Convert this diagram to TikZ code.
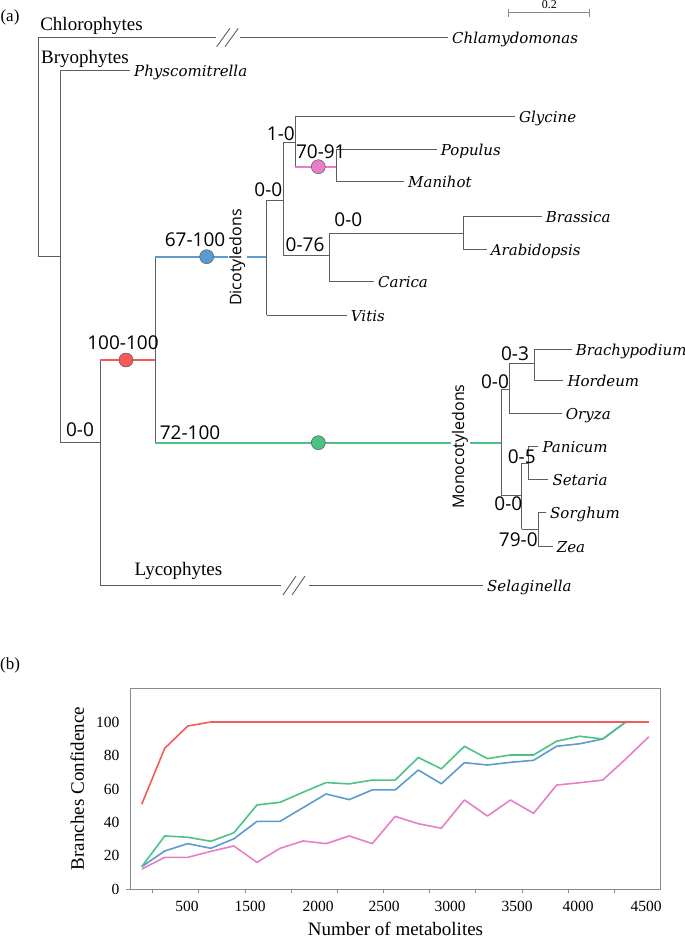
\documentclass[tikz,border=0pt]{standalone}
\usepackage{fontspec}
\setmainfont{Liberation Serif}
\newfontfamily\bsfam{Open Sans}
\newfontfamily\spfam{DejaVu Serif}
\definecolor{treegray}{HTML}{5E5E5E}
\definecolor{cred}{HTML}{F65A56}
\definecolor{cblue}{HTML}{5B9BD0}
\definecolor{cgreen}{HTML}{4CC285}
\definecolor{cpink}{HTML}{E77FC8}
\definecolor{boxgray}{HTML}{8A8A8A}
\newcommand\myspfont{\spfam\itshape\fontsize{15bp}{18bp}\selectfont}
\newcommand\mybsfont{\bsfam\fontsize{19bp}{22bp}\selectfont}
\newcommand\mycladefont{\bsfam\fontsize{16bp}{19bp}\selectfont}
\newcommand\myhdfont{\fontsize{19bp}{22bp}\selectfont}
\newcommand\mytickfont{\fontsize{15.5bp}{18bp}\selectfont}
\newcommand\mytitlefont{\fontsize{19bp}{22bp}\selectfont}
\newcommand\tedge[3]{\draw[br] (#1) -- (#1 |- #2); \draw[br,#3] (#1 |- #2) -- (#2);}
\tikzset{
  br/.style={draw=treegray, line width=0.8bp},
  cbr/.style={line width=2bp},
  dotc/.style={circle, draw=black!65, line width=0.5bp, minimum size=14bp, inner sep=0pt},
  sp/.style={anchor=base west, inner sep=0pt, font=\myspfont, xshift=4bp, yshift=-6bp},
  bs/.style={inner sep=0pt, font=\mybsfont},
  clade/.style={rotate=90, fill=white, inner sep=1.5bp, font=\mycladefont},
  hd/.style={inner sep=0pt, font=\myhdfont},
  tick/.style={inner sep=0pt, font=\mytickfont},
  sl/.style={draw=treegray, line width=0.9bp},
  dline/.style={line width=1.6bp, line join=round},
}
\begin{document}
\begin{tikzpicture}[x=1bp,y=-1bp]
\useasboundingbox (0,0) rectangle (685,939);

% ---------------- (a) tree ----------------
\node[hd, font=\fontsize{17bp}{20bp}\selectfont] (la) at (10,17) {(a)};

% internal nodes
\coordinate (R) at (38.3,147);
\coordinate (B) at (60,256.7);
\coordinate (L) at (100,442.7);
\coordinate (A) at (155,360);
\coordinate (D) at (266.7,256.7);
\coordinate (E) at (283.3,200);
\coordinate (F) at (295,142.3);
\coordinate (H) at (336.7,166.7);
\coordinate (G) at (329.3,255.7);
\coordinate (I) at (463.3,233.3);
\coordinate (M) at (501.7,442.7);
\coordinate (N) at (509.3,389.3);
\coordinate (P) at (534.3,363.3);
\coordinate (O) at (521.7,495.7);
\coordinate (Q) at (528.3,463.3);
\coordinate (S) at (538.3,529.3);

% leaf ends
\coordinate (chl) at (448,37.7);
\coordinate (chlA) at (216,37.7);
\coordinate (chlB) at (240,37.7);
\coordinate (phy) at (130,70.7);
\coordinate (sel) at (483,585);
\coordinate (selA) at (281,585);
\coordinate (selB) at (309,585);
\coordinate (gly) at (515,116.7);
\coordinate (pop) at (436.7,149.3);
\coordinate (man) at (404,181.7);
\coordinate (bra) at (541.7,216.7);
\coordinate (ara) at (486.7,249);
\coordinate (car) at (374,281.7);
\coordinate (vit) at (346.7,315);
\coordinate (bry) at (571.7,349);
\coordinate (hor) at (563.3,380.3);
\coordinate (ory) at (561.7,413.3);
\coordinate (pan) at (538.3,446);
\coordinate (set) at (548.3,479.3);
\coordinate (sor) at (546,512.7);
\coordinate (zea) at (552.7,546);

% root + chlorophytes with break
\draw[br] (R) -- (R |- chl);
\draw[br] (R |- chl) -- (chlA);
\draw[br] (chlB) -- (chl);
\draw[sl] (216.7,46.7) -- (230,28.3);
\draw[sl] (225,46.7) -- (238.3,28.3);
\tedge{R}{B}{}
\tedge{B}{phy}{}
\tedge{B}{L}{}
% lycophytes with break
\draw[br] (L) -- (L |- sel);
\draw[br] (L |- sel) -- (selA);
\draw[br] (selB) -- (sel);
\draw[sl] (283,595) -- (296,576);
\draw[sl] (292,595) -- (305,576);

\tedge{L}{A}{cred,cbr}
\tedge{A}{D}{cblue,cbr}
\tedge{A}{M}{cgreen,cbr}
\tedge{D}{E}{}
\tedge{D}{vit}{}
\tedge{E}{F}{}
\tedge{E}{G}{}
\tedge{F}{gly}{}
\tedge{F}{H}{cpink,cbr}
\tedge{H}{pop}{}
\tedge{H}{man}{}
\tedge{G}{I}{}
\tedge{G}{car}{}
\tedge{I}{bra}{}
\tedge{I}{ara}{}
\tedge{M}{N}{}
\tedge{M}{O}{}
\tedge{N}{P}{}
\tedge{N}{ory}{}
\tedge{P}{bry}{}
\tedge{P}{hor}{}
\tedge{O}{Q}{}
\tedge{O}{S}{}
\tedge{Q}{pan}{}
\tedge{Q}{set}{}
\tedge{S}{sor}{}
\tedge{S}{zea}{}

% dots
\node[dotc, fill=cred] (dr) at (126,360) {};
\node[dotc, fill=cblue] (db) at (206.7,256.7) {};
\node[dotc, fill=cpink] (dp) at (318.3,166.7) {};
\node[dotc, fill=cgreen] (dg) at (318.3,442.7) {};

% clade labels
\node[clade] (dico) at (237.3,257.5) {Dicotyledons};
\node[clade] (mono) at (460,446.7) {Monocotyledons};

% group labels
\node[hd] (chlo) at (91.5,26) {Chlorophytes};
\node[hd] (bryo) at (85,59) {Bryophytes};
\node[hd] (lyco) at (178.5,571) {Lycophytes};

% species
\node[sp] (tchl) at (chl) {Chlamydomonas};
\node[sp] (tphy) at (phy) {Physcomitrella};
\node[sp] (tsel) at (sel) {Selaginella};
\node[sp] (tgly) at (gly) {Glycine};
\node[sp] (tpop) at (pop) {Populus};
\node[sp] (tman) at (man) {Manihot};
\node[sp] (tbra) at (bra) {Brassica};
\node[sp] (tara) at (ara) {Arabidopsis};
\node[sp] (tcar) at (car) {Carica};
\node[sp] (tvit) at (vit) {Vitis};
\node[sp] (tbry) at (bry) {Brachypodium};
\node[sp] (thor) at (hor) {Hordeum};
\node[sp] (tory) at (ory) {Oryza};
\node[sp] (tpan) at (pan) {Panicum};
\node[sp] (tset) at (set) {Setaria};
\node[sp] (tsor) at (sor) {Sorghum};
\node[sp] (tzea) at (zea) {Zea};

% support values
\node[bs] (s1) at (123,342.7) {100-100};
\node[bs] (s2) at (80,430) {0-0};
\node[bs] (s3) at (195,240) {67-100};
\node[bs] (s4) at (190,432.7) {72-100};
\node[bs] (s5) at (268.3,190) {0-0};
\node[bs] (s6) at (280.8,133.3) {1-0};
\node[bs] (s7) at (320.8,151.7) {70-91};
\node[bs] (s8) at (305,245) {0-76};
\node[bs] (s9) at (348.3,220) {0-0};
\node[bs] (s10) at (515,353.3) {0-3};
\node[bs] (s11) at (495,381.7) {0-0};
\node[bs] (s12) at (521.7,456.7) {0-5};
\node[bs] (s13) at (508.3,503.3) {0-0};
\node[bs] (s14) at (518.3,540) {79-0};

% scale bar
\draw[boxgray, line width=0.8bp] (508.3,12.3) -- (589.3,12.3);
\draw[boxgray, line width=0.8bp] (508.3,8.5) -- (508.3,16.5);
\draw[boxgray, line width=0.8bp] (589.3,8.5) -- (589.3,16.5);
\node[inner sep=0pt, font=\fontsize{12bp}{14bp}\selectfont] (scl) at (549.3,4.5) {0.2};

% ---------------- (b) chart ----------------
\node[hd, font=\fontsize{17bp}{20bp}\selectfont] (lb) at (10,665) {(b)};
\draw[boxgray, line width=0.9bp] (130,688.3) rectangle (660.3,889.3);
\foreach \k in {0,...,10} {
  \draw[boxgray, line width=0.8bp] ({152.7+46.15*\k},889.3) -- ({152.7+46.15*\k},893);
}
\draw[boxgray, line width=0.8bp] (126,889.3) -- (130,889.3);
\foreach \v in {0,20,40,60,80,100} {
  \node[tick, anchor=east] at (119.5,{889.3-1.673*\v}) {\v};
}
\foreach \lab/\xx in {500/187,1500/250,2000/318,2500/384,3000/450,3500/517,4000/578,4500/646} {
  \node[tick] at (\xx,906.7) {\lab};
}
\node[inner sep=0pt, font=\mytitlefont, rotate=90] (ytit) at (77.3,788.5) {Branches Confidence};
\node[inner sep=0pt, font=\mytitlefont] (xtit) at (395.5,929) {Number of metabolites};

\begin{scope}[shift={(141.7,889.3)}, x=23.05bp, y=1.673bp]
\draw[dline, cpink] plot coordinates {(0,12.1) (1,19.1) (2,19.1) (3,22.7) (4,25.9) (5,16.1) (6,24.5) (7,28.9) (8,27.3) (9,31.9) (10,27.3) (11,43.6) (12,39.2) (13,36.5) (14,53.4) (15,43.8) (16,53.4) (17,45.4) (18,62.3) (19,63.7) (20,65.3) (21,77.9) (22,91.2)};
\draw[dline, cblue] plot coordinates {(0,13.5) (1,22.9) (2,27.3) (3,24.5) (4,30.2) (5,40.6) (6,40.6) (7,48.8) (8,57) (9,53.6) (10,59.4) (11,59.4) (12,71.3) (13,63.1) (14,75.7) (15,74.3) (16,75.9) (17,77.1) (18,85.5) (19,87) (20,89.8) (21,100) (22,100)};
\draw[dline, cgreen] plot coordinates {(0,13.5) (1,31.9) (2,31.1) (3,28.7) (4,33.8) (5,50.4) (6,52) (7,58) (8,63.8) (9,63) (10,65.3) (11,65.3) (12,78.8) (13,72) (14,85.5) (15,78.1) (16,80.3) (17,80.3) (18,88.5) (19,91.5) (20,89.8) (21,100) (22,100)};
\draw[dline, cred] plot coordinates {(0,50.8) (1,84.3) (2,97.6) (3,100) (22,100)};
\end{scope}
\end{tikzpicture}
\end{document}
